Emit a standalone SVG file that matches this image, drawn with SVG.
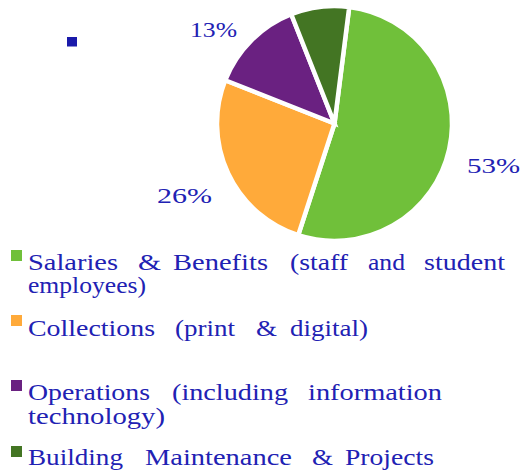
<svg xmlns="http://www.w3.org/2000/svg" width="522" height="471" viewBox="0 0 522 471">
<style>
.slice{stroke:#fff;stroke-width:4.5;stroke-linejoin:miter}
.t{font-family:"Liberation Serif","Times New Roman",serif;font-size:22.5px;fill:#2121b3}
.p{font-family:"Liberation Serif","Times New Roman",serif;font-size:22px;fill:#2121b3}
</style>
<rect width="522" height="471" fill="#fff"/>
<rect id="bullet" x="67" y="37" width="10" height="9.5" fill="#1a1aaa"/>
<g id="pie">
<path id="s-salaries" class="slice" fill="#70c03a" d="M334.5,123.5 L349.23,6.93 A117.5,117.5 0 1 1 298.19,235.25 Z"/>
<path id="s-collections" class="slice" fill="#ffaa3a" d="M334.5,123.5 L298.19,235.25 A117.5,117.5 0 0 1 225.25,80.25 Z"/>
<path id="s-operations" class="slice" fill="#6a2181" d="M334.5,123.5 L225.25,80.25 A117.5,117.5 0 0 1 291.25,14.25 Z"/>
<path id="s-building" class="slice" fill="#437523" d="M334.5,123.5 L291.25,14.25 A117.5,117.5 0 0 1 349.23,6.93 Z"/>
</g>
<g id="labels">
<text class="p" x="190" y="37" textLength="47" lengthAdjust="spacingAndGlyphs">13%</text>
<text class="p" x="157" y="203" textLength="55" lengthAdjust="spacingAndGlyphs">26%</text>
<text class="p" x="467" y="173" textLength="53" lengthAdjust="spacingAndGlyphs">53%</text>
</g>
<g id="legend-salaries">
<rect x="11" y="250" width="11" height="11" fill="#70c03a"/>
<text class="t" y="270"><tspan x="28" textLength="90" lengthAdjust="spacingAndGlyphs">Salaries</tspan> <tspan x="138" textLength="23" lengthAdjust="spacingAndGlyphs">&amp;</tspan> <tspan x="173" textLength="95" lengthAdjust="spacingAndGlyphs">Benefits</tspan> <tspan x="290" textLength="58" lengthAdjust="spacingAndGlyphs">(staff</tspan> <tspan x="368" textLength="37" lengthAdjust="spacingAndGlyphs">and</tspan> <tspan x="424" textLength="81" lengthAdjust="spacingAndGlyphs">student</tspan></text>
<text class="t" x="28" y="293" textLength="118" lengthAdjust="spacingAndGlyphs">employees)</text>
</g>
<g id="legend-collections">
<rect x="11" y="315" width="11" height="11" fill="#ffaa3a"/>
<text class="t" y="336"><tspan x="28" textLength="127" lengthAdjust="spacingAndGlyphs">Collections</tspan> <tspan x="175" textLength="60" lengthAdjust="spacingAndGlyphs">(print</tspan> <tspan x="256" textLength="21" lengthAdjust="spacingAndGlyphs">&amp;</tspan> <tspan x="290" textLength="78" lengthAdjust="spacingAndGlyphs">digital)</tspan></text>
</g>
<g id="legend-operations">
<rect x="11" y="380" width="11" height="11" fill="#6a2181"/>
<text class="t" y="400"><tspan x="28" textLength="122" lengthAdjust="spacingAndGlyphs">Operations</tspan> <tspan x="172" textLength="116" lengthAdjust="spacingAndGlyphs">(including</tspan> <tspan x="308" textLength="134" lengthAdjust="spacingAndGlyphs">information</tspan></text>
<text class="t" x="28" y="424" textLength="137" lengthAdjust="spacingAndGlyphs">technology)</text>
</g>
<g id="legend-building">
<rect x="11" y="446" width="11" height="11" fill="#437523"/>
<text class="t" y="465"><tspan x="28" textLength="95" lengthAdjust="spacingAndGlyphs">Building</tspan> <tspan x="145" textLength="147" lengthAdjust="spacingAndGlyphs">Maintenance</tspan> <tspan x="312" textLength="21" lengthAdjust="spacingAndGlyphs">&amp;</tspan> <tspan x="345" textLength="89" lengthAdjust="spacingAndGlyphs">Projects</tspan></text>
</g>
</svg>
